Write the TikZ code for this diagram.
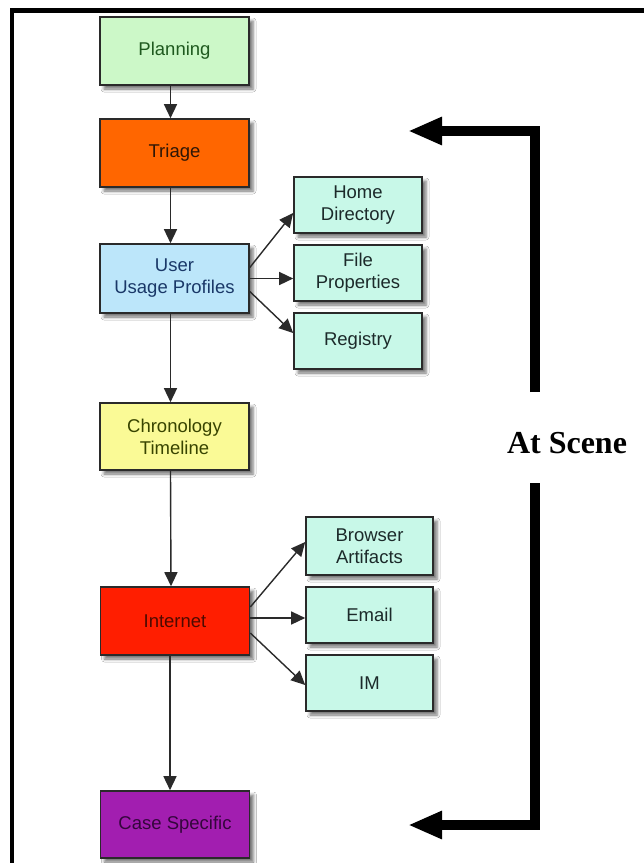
\documentclass[tikz,border=0pt]{standalone}
\usepackage{fontspec}
\setmainfont{Liberation Sans}
\newfontfamily\headserif{Liberation Serif}
\usetikzlibrary{arrows.meta,calc,shadows.blur}

\definecolor{planfill}{HTML}{CCF8C8}
\definecolor{planink}{HTML}{1F5A1F}
\definecolor{triagefill}{HTML}{FF6600}
\definecolor{triageink}{HTML}{2E1606}
\definecolor{userfill}{HTML}{BCE6FA}
\definecolor{userink}{HTML}{1A3868}
\definecolor{chronfill}{HTML}{FAFA96}
\definecolor{chronink}{HTML}{384400}
\definecolor{netfill}{HTML}{FF1E00}
\definecolor{netink}{HTML}{4E0A00}
\definecolor{casefill}{HTML}{A21EB0}
\definecolor{caseink}{HTML}{34063C}
\definecolor{leaffill}{HTML}{C8F8E8}
\definecolor{leafink}{HTML}{1C2A2A}
\definecolor{edge}{HTML}{2A2A2A}

\tikzset{
  stagebox/.style={draw=edge, line width=1.6pt, inner sep=0pt, align=center,
    minimum width=149pt, minimum height=68pt,
    font=\fontsize{18.5}{22}\selectfont,
    blur shadow={shadow xshift=4pt, shadow yshift=-4pt, shadow blur radius=3pt, shadow opacity=55}},
  leafbox/.style={stagebox, fill=leaffill, text=leafink,
    minimum width=128pt, minimum height=56pt},
  flow/.style={draw=edge, line width=1.4pt, -{Triangle[width=13pt,length=14pt]}},
  bigarrow/.style={draw=black, line width=10pt, line join=miter,
    -{Triangle[width=26pt,length=34pt]}},
}

\begin{document}
\begin{tikzpicture}[x=1pt,y=-1pt]
  \useasboundingbox[fill=white] (0,0) rectangle (644,863);

  % outer frame (only top and left edges fall inside the page)
  \draw[line width=4.5pt, line join=miter] (12,870) -- (12,10.5) -- (650,10.5);

  % main stages
  \node[stagebox, fill=planfill,   text=planink]   (plan)   at (174.5,51)    {Planning};
  \node[stagebox, fill=triagefill, text=triageink] (triage) at (174.5,153)   {Triage};
  \node[stagebox, fill=userfill,   text=userink, minimum height=69pt] (user) at (174.5,278.5) {User\\Usage Profiles};
  \node[stagebox, fill=chronfill,  text=chronink, minimum height=67pt] (chron) at (174.5,436.5) {Chronology\\Timeline};
  \node[stagebox, fill=netfill,    text=netink]    (net)    at (175,621)     {Internet};
  \node[stagebox, fill=casefill,   text=caseink, minimum height=67pt] (case) at (175,824.5) {Case Specific};

  % sub-items
  \node[leafbox] (home)    at (358,205)   {Home\\Directory};
  \node[leafbox] (fprop)   at (358,273)   {File\\Properties};
  \node[leafbox] (reg)     at (358,341)   {Registry};
  \node[leafbox, minimum width=127pt, minimum height=58pt] (browser) at (369.5,546) {Browser\\Artifacts};
  \node[leafbox, minimum width=127pt] (email) at (369.5,615) {Email};
  \node[leafbox, minimum width=127pt] (im)    at (369.5,683) {IM};

  % main flow
  \draw[flow] ([xshift=-4pt]plan.south)   -- ([xshift=-4pt]triage.north);
  \draw[flow] ([xshift=-4pt]triage.south) -- ([xshift=-4pt]user.north);
  \draw[flow] ([xshift=-4pt]user.south)   -- ([xshift=-4pt]chron.north);
  \draw[flow] ([xshift=-4pt]chron.south)  -- ([xshift=-4pt]net.north);
  \draw[flow] ([xshift=-5pt]net.south)    -- ([xshift=-5pt]case.north);

  % branches
  \coordinate (netmid) at ($(net.east)+(0,-3)$);
  \draw[flow] ($(user.east)+(0,-11)$) -- ($(home.west)+(0,8)$);
  \draw[flow] (user.east) -- (user.east -| fprop.west);
  \draw[flow] ($(user.east)+(0,13)$) -- ($(reg.west)+(0,-8)$);
  \draw[flow] ($(net.east)+(0,-14)$) -- ($(browser.west)+(0,-4)$);
  \draw[flow] (netmid) -- (netmid -| email.west);
  \draw[flow] ($(net.east)+(0,12)$) -- ($(im.west)+(0,2)$);

  % scope bracket
  \node[font=\headserif\bfseries\fontsize{32}{36}\selectfont] (scene) at (567,443) {At Scene};
  \coordinate (upfoot)   at (535,392);
  \coordinate (upbend)   at (535,131);
  \coordinate (uptip)    at (408,131);
  \coordinate (downfoot) at (535,483);
  \coordinate (downbend) at (535,825);
  \coordinate (downtip)  at (408,825);
  \draw[bigarrow] (upfoot) -- (upbend) -- (uptip);
  \draw[bigarrow] (downfoot) -- (downbend) -- (downtip);
\end{tikzpicture}
\end{document}
